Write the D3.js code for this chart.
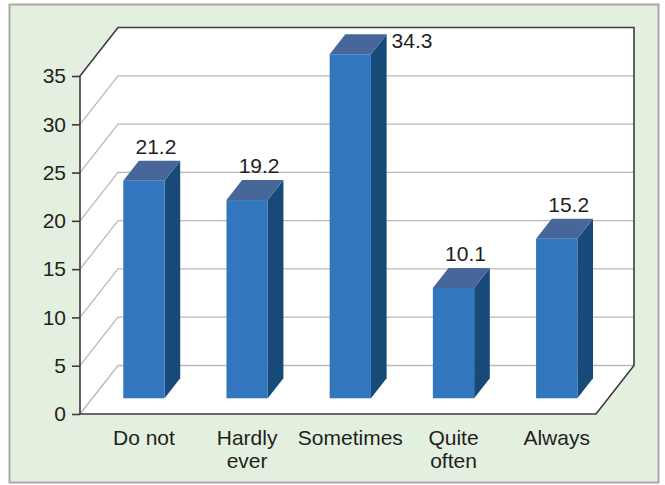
<!DOCTYPE html>
<html>
<head>
<meta charset="utf-8">
<script src="https://cdn.jsdelivr.net/npm/d3@7"></script>
<style>
  html, body { margin: 0; padding: 0; background: #ffffff; }
  svg { display: block; }
  text { font-family: "Liberation Sans", Arial, sans-serif; fill: #231f20; }
</style>
</head>
<body>
<svg id="chart" width="665" height="485"></svg>
<script>
// ---- data ----
const categories = ["Do not", "Hardly ever", "Sometimes", "Quite often", "Always"];
const categoryLines = [["Do not"], ["Hardly", "ever"], ["Sometimes"], ["Quite", "often"], ["Always"]];
const values = [21.2, 19.2, 34.3, 10.1, 15.2];
const valueLabels = ["21.2", "19.2", "34.3", "10.1", "15.2"];
const yTicks = [0, 5, 10, 15, 20, 25, 30, 35];

// ---- layout ----
const svg = d3.select("#chart");
const FS = 21;
const DX = 38, DY = 48.5;           // 3D depth offset
const x = d3.scaleBand().domain(categories).range([80, 596]).paddingInner(0).paddingOuter(0);
const y = d3.scaleLinear().domain([0, 35]).range([414, 76]);
const d0 = 0.324, d1 = 0.736;       // bar depth (fraction of floor depth)
const barFrac = 0.40;

// outer background
svg.append("rect")
  .attr("x", 9.5).attr("y", 4.5).attr("width", 649).attr("height", 478)
  .attr("fill", "#e3efdf").attr("stroke", "#a8a8a8").attr("stroke-width", 2);

// plot body (walls + floor) white
const xL = x.range()[0], xR = x.range()[1];
const yTop = y(35), yBot = y(0);
const bodyPath = `M${xL},${yBot} L${xL},${yTop} L${xL + DX},${yTop - DY} L${xR + DX},${yTop - DY} L${xR + DX},${yBot - DY} L${xR},${yBot} Z`;
svg.append("path").attr("d", bodyPath).attr("fill", "#ffffff");

// gridlines: side wall diagonal + back wall horizontal
const grid = svg.append("g").attr("fill", "none").attr("stroke", "#b9b9b9").attr("stroke-width", 1.3);
yTicks.filter(t => t < 35).forEach(t => {
  grid.append("path")
    .attr("d", `M${xL},${y(t)} L${xL + DX},${y(t) - DY} L${xR + DX},${y(t) - DY}`);
});

// dark outline
svg.append("path").attr("d", bodyPath)
  .attr("fill", "none").attr("stroke", "#3c3c3c").attr("stroke-width", 1.6);

// y axis
const yAxis = d3.axisLeft(y).tickValues(yTicks).tickSize(8).tickPadding(6).tickFormat(d3.format("d"));
const ya = svg.append("g").attr("transform", `translate(${xL},0)`).call(yAxis);
ya.select(".domain").remove();
ya.selectAll(".tick line").attr("stroke", "#3c3c3c").attr("stroke-width", 1.6);
ya.selectAll(".tick text").attr("font-size", FS).attr("font-family", "Liberation Sans, Arial, sans-serif").attr("fill", "#231f20");

// bars
const bw = x.bandwidth() * barFrac;
const bars = svg.append("g");
categories.forEach((c, i) => {
  const v = values[i];
  const fl = x(c) + (x.bandwidth() - bw) / 2 + d0 * DX;
  const fr = fl + bw;
  const fb = yBot - d0 * DY;
  const ox = (d1 - d0) * DX, oy = (d1 - d0) * DY;
  const topBack = y(v) - DY;          // bar top read against back wall
  const ft = topBack + oy;
  // side face
  bars.append("path")
    .attr("d", `M${fr},${fb} L${fr},${ft} L${fr + ox},${ft - oy} L${fr + ox},${fb - oy} Z`)
    .attr("fill", "#174a79");
  // top face
  bars.append("path")
    .attr("d", `M${fl},${ft} L${fr},${ft} L${fr + ox},${ft - oy} L${fl + ox},${ft - oy} Z`)
    .attr("fill", "#47679a");
  // front face
  bars.append("rect")
    .attr("x", fl).attr("y", ft).attr("width", bw).attr("height", fb - ft)
    .attr("fill", "#3277bd");

  // value label
  const lbl = svg.append("text").attr("font-size", FS).text(valueLabels[i]);
  if (topBack - 10 < yTop - DY + 12) {
    lbl.attr("x", fr + ox + 5).attr("y", topBack + 14).attr("text-anchor", "start");
  } else {
    lbl.attr("x", fl + bw / 2 + 12).attr("y", topBack - 7).attr("text-anchor", "middle");
  }
});

// category labels
categories.forEach((c, i) => {
  const cx = x(c) + x.bandwidth() / 2 + d0 * DX;
  const t = svg.append("text").attr("font-size", FS).attr("text-anchor", "middle")
    .attr("x", cx).attr("y", 445);
  categoryLines[i].forEach((line, k) => {
    t.append("tspan").attr("x", cx).attr("dy", k === 0 ? 0 : 23).text(line);
  });
});
</script>
</body>
</html>
